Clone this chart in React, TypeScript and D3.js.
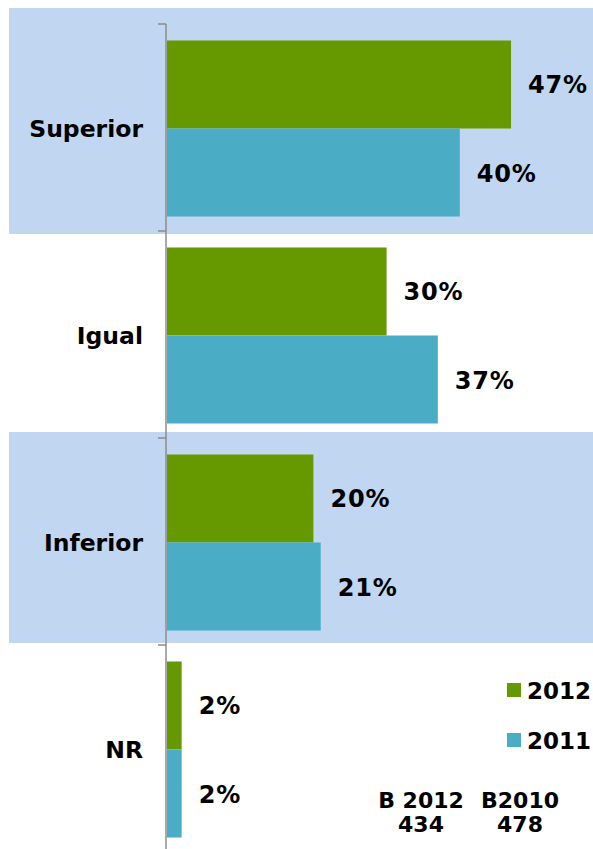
import React from 'react';
import * as d3 from 'd3';

const categories = ['Superior', 'Igual', 'Inferior', 'NR'];
const series = ['2012', '2011'];
const values2012 = [47, 30, 20, 2];
const values2011 = [40, 37, 21, 2];
const shaded = ['Superior', 'Inferior'];
const baseNotes = [['B 2012', '434'], ['B2010', '478']];

const COLORS: Record<string, string> = { '2012': '#669900', '2011': '#4BACC6' };
const FONT = 'Verdana, "DejaVu Sans", sans-serif';

const W = 593;
const H = 849;

export default function App() {
	const y = d3.scaleBand<string>().domain(categories).range([25, 853]);
	const step = y.step();
	const ySub = d3.scaleBand<string>().domain(series).range([0, step]).paddingOuter(0.176);
	const x = d3.scaleLinear().domain([0, 50]).range([167, 533]);

	const data = series.map((s, si) => ({
		key: s,
		values: (si === 0 ? values2012 : values2011).map((v, i) => ({ cat: categories[i], v }))
	}));

	return (
		<svg width={W} height={H} style={{ position: 'absolute', left: 0, top: 0, background: '#fff' }}>
			{/* shaded bands behind alternate categories */}
			{categories.map((c, i) => {
				if (!shaded.includes(c)) return null;
				const top = i === 0 ? 8 : (y(c) as number) - 7;
				const bottom = (y(c) as number) + step + (i === 0 ? 2 : -3);
				return <rect key={c} x={9} y={top} width={W - 9} height={bottom - top} fill="#C1D6F0" />;
			})}

			{/* bars */}
			{data.map(s =>
				s.values.map(d => (
					<rect
						key={s.key + d.cat}
						x={x(0)}
						y={(y(d.cat) as number) + (ySub(s.key) as number)}
						width={x(d.v) - x(0)}
						height={ySub.bandwidth()}
						fill={COLORS[s.key]}
					/>
				))
			)}

			{/* value labels */}
			{data.map(s =>
				s.values.map(d => (
					<text
						key={'l' + s.key + d.cat}
						x={x(d.v) + 17}
						y={(y(d.cat) as number) + (ySub(s.key) as number) + ySub.bandwidth() / 2 + 1}
						dominantBaseline="central"
						fontFamily={FONT}
						fontWeight="bold"
						fontSize={24}
						letterSpacing={0.8}
						fill="#000"
					>
						{d.v}%
					</text>
				))
			)}

			{/* axis */}
			<line x1={166} x2={166} y1={24} y2={H} stroke="#8c8c8c" strokeWidth={1.5} />
			{categories.map(c => (
				<line key={'t' + c} x1={158} x2={166} y1={(y(c) as number) - 1} y2={(y(c) as number) - 1} stroke="#8c8c8c" strokeWidth={1.5} />
			))}
			{categories.map(c => (
				<text
					key={'c' + c}
					x={143}
					y={(y(c) as number) + step / 2}
					textAnchor="end"
					dominantBaseline="central"
					fontFamily={FONT}
					fontWeight="bold"
					fontSize={23.5}
					fill="#000"
				>
					{c}
				</text>
			))}

			{/* legend */}
			{series.map((s, i) => (
				<g key={'lg' + s} transform={`translate(507, ${683 + i * 50})`}>
					<rect width={14} height={14} fill={COLORS[s]} />
					<text x={20} y={8} dominantBaseline="central" fontFamily={FONT} fontWeight="bold" fontSize={23}>
						{s}
					</text>
				</g>
			))}

			{/* base notes */}
			{baseNotes.map((n, i) => (
				<text key={'b' + i} x={421 + i * 99} textAnchor="middle" fontFamily={FONT} fontWeight="bold" fontSize={22} fill="#000">
					<tspan x={421 + i * 99} y={808}>{n[0]}</tspan>
					<tspan x={421 + i * 99} y={832}>{n[1]}</tspan>
				</text>
			))}
		</svg>
	);
}
